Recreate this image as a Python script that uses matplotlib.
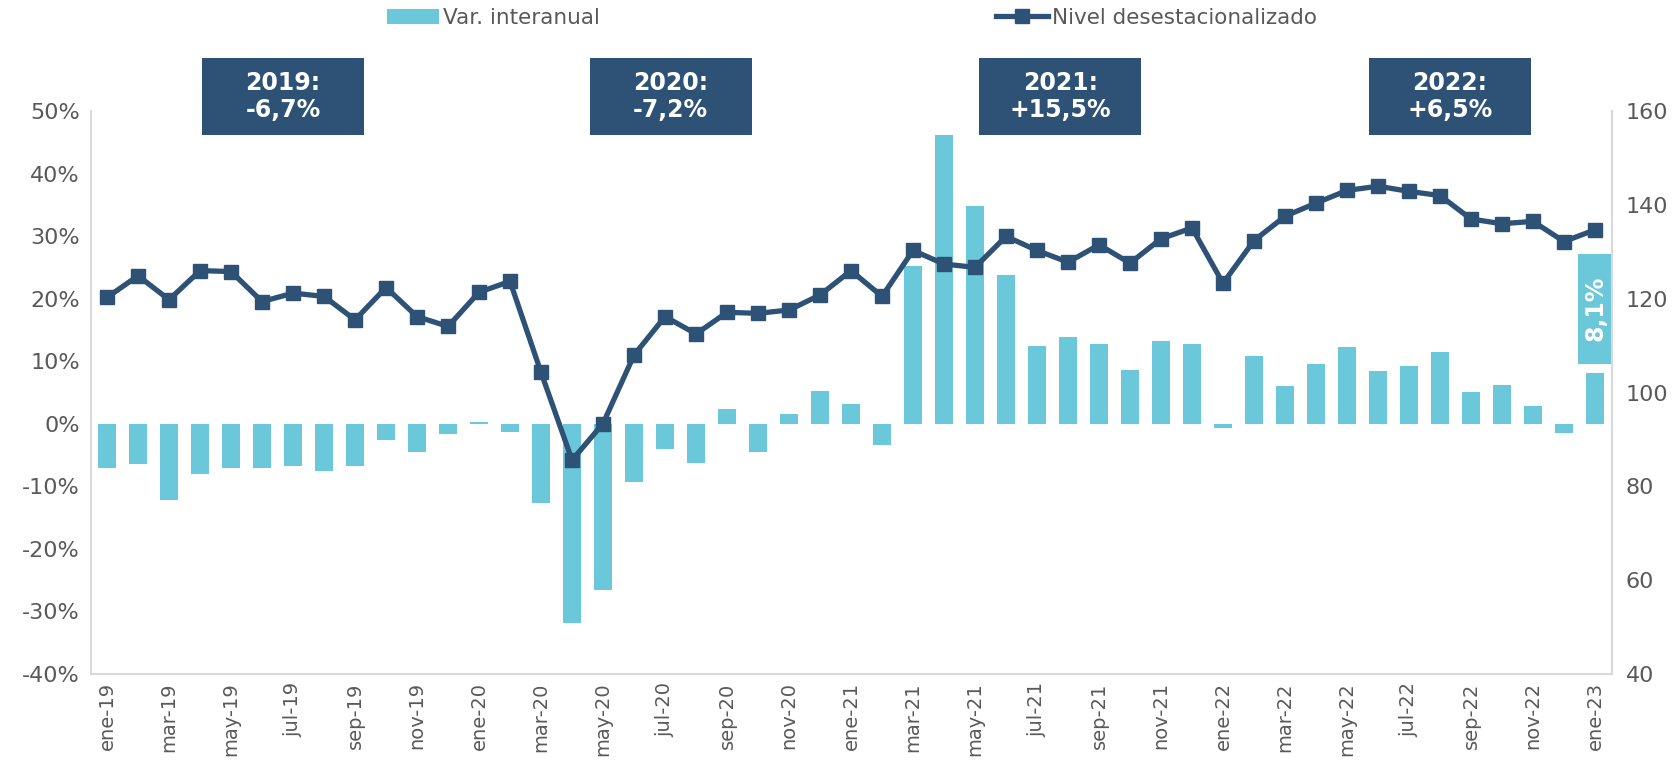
import matplotlib.pyplot as plt
from matplotlib.patches import Rectangle
import numpy as np

meses = ['ene', 'feb', 'mar', 'abr', 'may', 'jun', 'jul', 'ago', 'sep', 'oct', 'nov', 'dic']
fechas = [m + '-' + str(a) for a in [19, 20, 21, 22] for m in meses] + ['ene-23']

# variacion interanual (%)
var_interanual = [-7.0, -6.5, -12.2, -8.1, -7.0, -7.1, -6.8, -7.5, -6.7, -2.6, -4.5, -1.6,
                  0.3, -1.3, -12.6, -31.8, -26.5, -9.3, -4.1, -6.3, 2.3, -4.5, 1.6, 5.2,
                  3.2, -3.4, 25.3, 46.2, 34.9, 23.8, 12.5, 13.9, 12.8, 8.6, 13.3, 12.7,
                  -0.7, 10.8, 6.0, 9.6, 12.3, 8.4, 9.2, 11.5, 5.1, 6.2, 2.9, -1.4,
                  8.1]

# nivel desestacionalizado (eje derecho)
nivel = [120.3, 124.9, 119.8, 126.0, 125.8, 119.4, 121.2, 120.5, 115.5, 122.4, 116.2, 114.1,
         121.4, 123.7, 104.3, 85.6, 93.4, 108.0, 116.2, 112.5, 117.1, 116.9, 117.6, 120.8,
         126.0, 120.5, 130.3, 127.4, 126.7, 133.3, 130.3, 127.8, 131.5, 127.6, 132.8, 135.1,
         123.3, 132.4, 137.6, 140.4, 143.1, 144.0, 142.9, 142.0, 137.0, 136.0, 136.5, 132.2,
         134.7]

anios = ['2019:\n-6,7%', '2020:\n-7,2%', '2021:\n+15,5%', '2022:\n+6,5%']
anios_pos = [5.68, 18.18, 30.75, 43.32]

azul_claro = '#6AC8DA'
azul = '#2D5276'
gris = '#595959'

x = np.arange(len(fechas))

fig = plt.figure(figsize=(16.78, 7.72), dpi=100)
ax = fig.add_axes([0.0542, 0.127, 0.9065, 0.729])
ax2 = ax.twinx()

ax.bar(x, var_interanual, width=0.6, color=azul_claro, label='Var. interanual', zorder=2)
ax2.plot(x, nivel, color=azul, lw=3.8, marker='s', markersize=10.5,
         solid_joinstyle='round', label='Nivel desestacionalizado', zorder=3)

ax.set_xlim(-0.52, 48.55)
ax.set_ylim(-40, 50)
ax2.set_ylim(40, 160)
ax.set_yticks(range(-40, 51, 10))
ax.set_yticklabels([str(v) + '%' for v in range(-40, 51, 10)])
ax2.set_yticks(range(40, 161, 20))

ax.set_xticks(x[::2])
ax.set_xticklabels(fechas[::2], rotation=90)

for a in (ax, ax2):
    a.tick_params(length=0, colors=gris, labelsize=16)
    for s in a.spines.values():
        s.set_visible(False)
ax.tick_params(axis='x', labelsize=14, pad=6)
ax.tick_params(axis='y', pad=8)
ax2.tick_params(axis='y', pad=10)
for s in ['left', 'bottom']:
    ax.spines[s].set_visible(True)
    ax.spines[s].set_color('#D9D9D9')
    ax.spines[s].set_linewidth(1.5)
ax2.spines['right'].set_visible(True)
ax2.spines['right'].set_color('#D9D9D9')
ax2.spines['right'].set_linewidth(1.5)

# cajas con la variacion anual
for pos, txt in zip(anios_pos, anios):
    ax.add_patch(Rectangle((pos - 2.61, 46.15), 5.22, 12.3, fc=azul, ec='none',
                           clip_on=False, zorder=5))
    ax.text(pos, 52.3, txt, ha='center', va='center', color='white', fontsize=17,
            fontweight='bold', linespacing=1.15, zorder=6, clip_on=False)

# etiqueta ultimo dato
ax.add_patch(Rectangle((47.45, 9.6), 1.1, 17.6, fc=azul_claro, ec='none',
                       clip_on=False, zorder=5))
ax.text(48, 18.4, '8,1%', rotation=90, ha='center', va='center', color='white',
        fontsize=17, fontweight='bold', zorder=6)

h1, l1 = ax.get_legend_handles_labels()
h2, l2 = ax2.get_legend_handles_labels()
fig.legend(h1 + h2, l1 + l2, loc='center', bbox_to_anchor=(0.508, 0.977), ncol=2,
           frameon=False, fontsize=15.5, labelcolor=gris, columnspacing=18.4,
           handlelength=2.4, handletextpad=0.2)

fig.savefig('out.png', dpi=100)
